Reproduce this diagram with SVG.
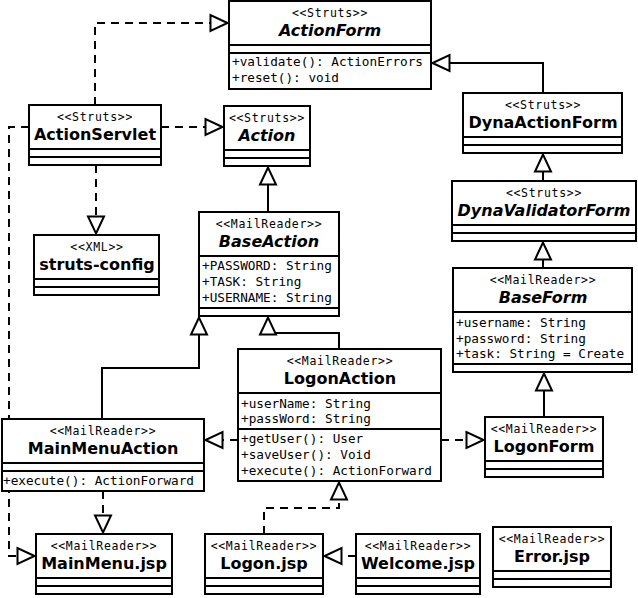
<svg xmlns="http://www.w3.org/2000/svg" width="638" height="598" viewBox="0 0 638 598">
<style>
.box{fill:#fff;stroke:#000;stroke-width:2}
.dv{stroke:#000;stroke-width:2}
.st{font-family:"DejaVu Sans Mono",monospace;font-size:11.5px;letter-spacing:0.7px;text-anchor:middle;fill:#000}
.nm{font-family:"DejaVu Sans",sans-serif;font-weight:bold;font-size:16px;text-anchor:middle;fill:#000}
.it{font-style:italic}
.at{font-family:"DejaVu Sans Mono",monospace;font-size:12.7px;fill:#000}
.c{fill:none;stroke:#000;stroke-width:2}
.d{stroke-dasharray:8 6}
</style>
<defs>
<marker id="tri" markerUnits="userSpaceOnUse" markerWidth="26" markerHeight="26" viewBox="-22 -13 26 26" refX="1.5" refY="0" orient="auto" overflow="visible">
<path d="M0,0 L-17,-8 L-17,8 Z" fill="#fff" stroke="#000" stroke-width="2"/>
</marker>
</defs>
<rect width="638" height="598" fill="#fff"/>
<g id="connectors">
<path class="c d" d="M95,105 V23 H229" marker-end="url(#tri)"/>
<path class="c d" d="M161,127 H224" marker-end="url(#tri)"/>
<path class="c d" d="M96,165 V235" marker-end="url(#tri)"/>
<path class="c d" d="M29,127 H9 V556 H36" marker-end="url(#tri)"/>
<path class="c" d="M268,212 V166" marker-end="url(#tri)"/>
<path class="c" d="M102,419 V368 H199 V316" marker-end="url(#tri)"/>
<path class="c" d="M339,349 V333 H268 V316" marker-end="url(#tri)"/>
<path class="c d" d="M238,440 H204" marker-end="url(#tri)"/>
<path class="c d" d="M441,440 H485" marker-end="url(#tri)"/>
<path class="c" d="M544,417 V372" marker-end="url(#tri)"/>
<path class="c" d="M543,268 V241" marker-end="url(#tri)"/>
<path class="c" d="M543,181 V153" marker-end="url(#tri)"/>
<path class="c" d="M543,93 V63 H431" marker-end="url(#tri)"/>
<path class="c d" d="M103,491 V534" marker-end="url(#tri)"/>
<path class="c d" d="M264,534 V508 H339 V481" marker-end="url(#tri)"/>
<path class="c d" d="M356,556 H323" marker-end="url(#tri)"/>
</g>
<g id="ActionForm">
<rect class="box" x="229" y="1" width="202" height="88"/>
<line class="dv" x1="229" y1="45" x2="431" y2="45"/>
<line class="dv" x1="229" y1="53" x2="431" y2="53"/>
<text class="st" x="330" y="17">&lt;&lt;Struts&gt;&gt;</text>
<text class="nm it" x="330" y="36">ActionForm</text>
<text class="at" x="232" y="66">+validate(): ActionErrors</text>
<text class="at" x="232" y="82">+reset(): void</text>
</g>
<g id="ActionServlet">
<rect class="box" x="29" y="105" width="132" height="60"/>
<line class="dv" x1="29" y1="149" x2="161" y2="149"/>
<line class="dv" x1="29" y1="157" x2="161" y2="157"/>
<text class="st" x="95" y="121">&lt;&lt;Struts&gt;&gt;</text>
<text class="nm" x="95" y="140">ActionServlet</text>
</g>
<g id="Action">
<rect class="box" x="224" y="106" width="86" height="60"/>
<line class="dv" x1="224" y1="150" x2="310" y2="150"/>
<line class="dv" x1="224" y1="158" x2="310" y2="158"/>
<text class="st" x="267" y="122">&lt;&lt;Struts&gt;&gt;</text>
<text class="nm it" x="267" y="141">Action</text>
</g>
<g id="DynaActionForm">
<rect class="box" x="463" y="93" width="159" height="60"/>
<line class="dv" x1="463" y1="137" x2="622" y2="137"/>
<line class="dv" x1="463" y1="145" x2="622" y2="145"/>
<text class="st" x="543" y="109">&lt;&lt;Struts&gt;&gt;</text>
<text class="nm" x="543" y="128">DynaActionForm</text>
</g>
<g id="DynaValidatorForm">
<rect class="box" x="452" y="181" width="184" height="60"/>
<line class="dv" x1="452" y1="225" x2="636" y2="225"/>
<line class="dv" x1="452" y1="233" x2="636" y2="233"/>
<text class="st" x="544" y="197">&lt;&lt;Struts&gt;&gt;</text>
<text class="nm it" x="544" y="216">DynaValidatorForm</text>
</g>
<g id="struts-config">
<rect class="box" x="34" y="235" width="125" height="60"/>
<line class="dv" x1="34" y1="279" x2="159" y2="279"/>
<line class="dv" x1="34" y1="287" x2="159" y2="287"/>
<text class="st" x="97" y="251">&lt;&lt;XML&gt;&gt;</text>
<text class="nm" x="97" y="270">struts-config</text>
</g>
<g id="BaseAction">
<rect class="box" x="199" y="212" width="140" height="104"/>
<line class="dv" x1="199" y1="256" x2="339" y2="256"/>
<line class="dv" x1="199" y1="308" x2="339" y2="308"/>
<text class="st" x="269" y="228">&lt;&lt;MailReader&gt;&gt;</text>
<text class="nm it" x="269" y="247">BaseAction</text>
<text class="at" x="202" y="270">+PASSWORD: String</text>
<text class="at" x="202" y="286">+TASK: String</text>
<text class="at" x="202" y="302">+USERNAME: String</text>
</g>
<g id="BaseForm">
<rect class="box" x="453" y="268" width="179" height="104"/>
<line class="dv" x1="453" y1="312" x2="632" y2="312"/>
<line class="dv" x1="453" y1="364" x2="632" y2="364"/>
<text class="st" x="543" y="284">&lt;&lt;MailReader&gt;&gt;</text>
<text class="nm it" x="543" y="303">BaseForm</text>
<text class="at" x="456" y="327">+username: String</text>
<text class="at" x="456" y="343">+password: String</text>
<text class="at" x="456" y="358">+task: String = Create</text>
</g>
<g id="LogonAction">
<rect class="box" x="238" y="349" width="203" height="132"/>
<line class="dv" x1="238" y1="393" x2="441" y2="393"/>
<line class="dv" x1="238" y1="429" x2="441" y2="429"/>
<text class="st" x="340" y="365">&lt;&lt;MailReader&gt;&gt;</text>
<text class="nm" x="340" y="384">LogonAction</text>
<text class="at" x="241" y="408">+userName: String</text>
<text class="at" x="241" y="423">+passWord: String</text>
<text class="at" x="241" y="443">+getUser(): User</text>
<text class="at" x="241" y="459">+saveUser(): Void</text>
<text class="at" x="241" y="475">+execute(): ActionForward</text>
</g>
<g id="MainMenuAction">
<rect class="box" x="2" y="419" width="202" height="72"/>
<line class="dv" x1="2" y1="463" x2="204" y2="463"/>
<line class="dv" x1="2" y1="471" x2="204" y2="471"/>
<text class="st" x="103" y="435">&lt;&lt;MailReader&gt;&gt;</text>
<text class="nm" x="103" y="454">MainMenuAction</text>
<text class="at" x="3" y="485">+execute(): ActionForward</text>
</g>
<g id="LogonForm">
<rect class="box" x="485" y="417" width="118" height="60"/>
<line class="dv" x1="485" y1="461" x2="603" y2="461"/>
<line class="dv" x1="485" y1="469" x2="603" y2="469"/>
<text class="st" x="544" y="433">&lt;&lt;MailReader&gt;&gt;</text>
<text class="nm" x="544" y="452">LogonForm</text>
</g>
<g id="MainMenu.jsp">
<rect class="box" x="36" y="534" width="136" height="60"/>
<line class="dv" x1="36" y1="578" x2="172" y2="578"/>
<line class="dv" x1="36" y1="586" x2="172" y2="586"/>
<text class="st" x="104" y="550">&lt;&lt;MailReader&gt;&gt;</text>
<text class="nm" x="104" y="569">MainMenu.jsp</text>
</g>
<g id="Logon.jsp">
<rect class="box" x="205" y="534" width="118" height="60"/>
<line class="dv" x1="205" y1="578" x2="323" y2="578"/>
<line class="dv" x1="205" y1="586" x2="323" y2="586"/>
<text class="st" x="264" y="550">&lt;&lt;MailReader&gt;&gt;</text>
<text class="nm" x="264" y="569">Logon.jsp</text>
</g>
<g id="Welcome.jsp">
<rect class="box" x="356" y="534" width="124" height="60"/>
<line class="dv" x1="356" y1="578" x2="480" y2="578"/>
<line class="dv" x1="356" y1="586" x2="480" y2="586"/>
<text class="st" x="418" y="550">&lt;&lt;MailReader&gt;&gt;</text>
<text class="nm" x="418" y="569">Welcome.jsp</text>
</g>
<g id="Error.jsp">
<rect class="box" x="493" y="527" width="118" height="60"/>
<line class="dv" x1="493" y1="571" x2="611" y2="571"/>
<line class="dv" x1="493" y1="579" x2="611" y2="579"/>
<text class="st" x="552" y="543">&lt;&lt;MailReader&gt;&gt;</text>
<text class="nm" x="552" y="562">Error.jsp</text>
</g>
</svg>
